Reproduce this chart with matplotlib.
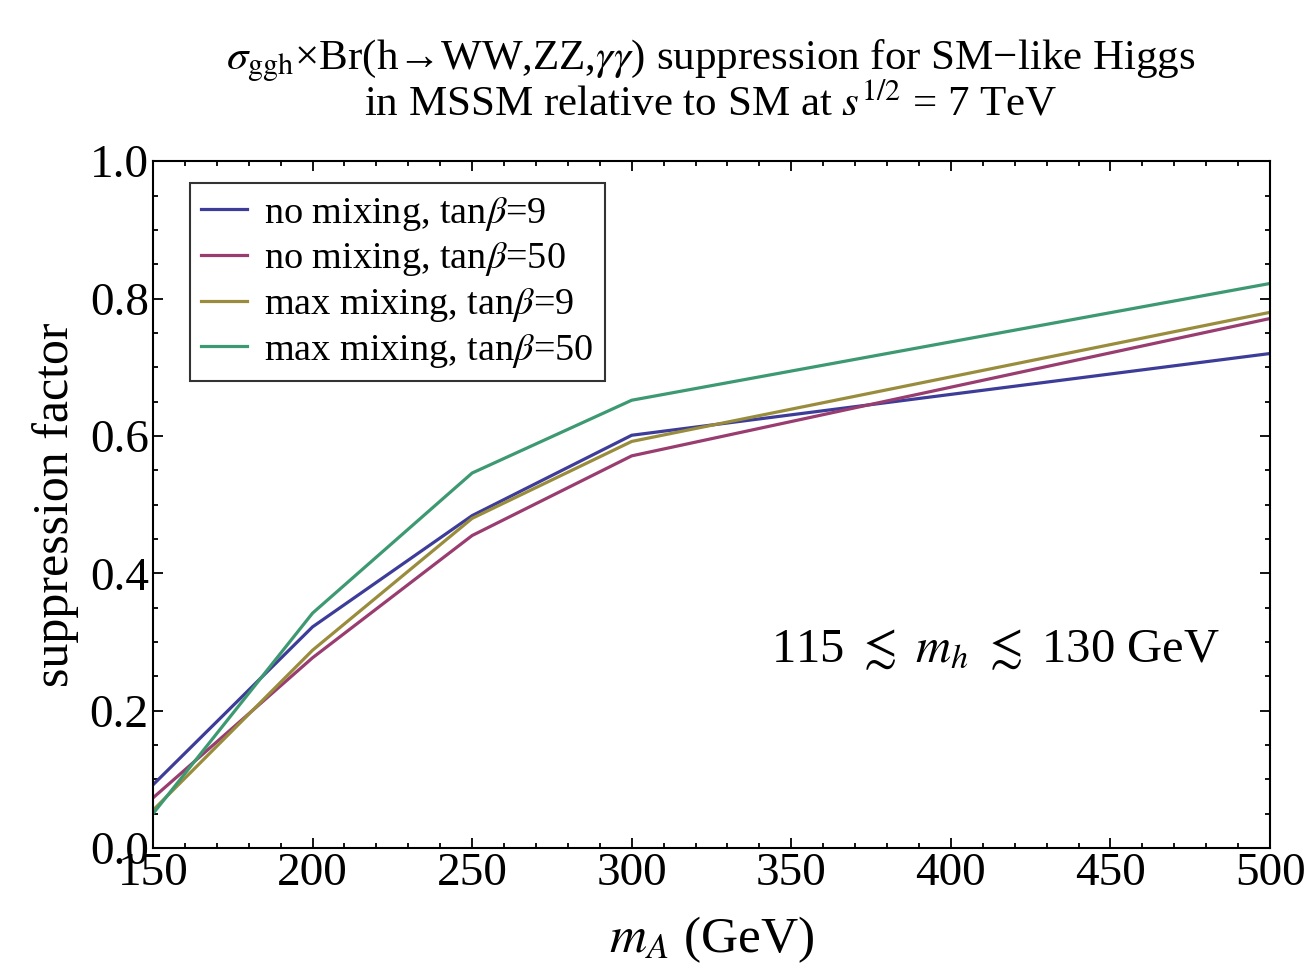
import numpy as np
import matplotlib
matplotlib.use("Agg")
import matplotlib.pyplot as plt
from matplotlib.ticker import MultipleLocator

plt.rcParams['font.family'] = ['Liberation Serif', 'DejaVu Serif']
plt.rcParams['mathtext.fontset'] = 'stix'

# m_A (GeV)
m_A = [150, 200, 250, 300, 500]

# suppression factors
nomix_tb9 = [0.092, 0.322, 0.484, 0.601, 0.720]
nomix_tb50 = [0.073, 0.277, 0.455, 0.571, 0.771]
maxmix_tb9 = [0.055, 0.288, 0.480, 0.592, 0.780]
maxmix_tb50 = [0.050, 0.342, 0.546, 0.652, 0.822]

labels = [r'no mixing, tan$\beta$=9', r'no mixing, tan$\beta$=50',
          r'max mixing, tan$\beta$=9', r'max mixing, tan$\beta$=50']
colors = ['#3d3d99', '#993d71', '#998d3d', '#3d9971']

fig = plt.figure(figsize=(13.13, 9.77), dpi=100)
ax = fig.add_axes([0.1165, 0.132, 0.8508, 0.703])

for ys, lab, c in zip([nomix_tb9, nomix_tb50, maxmix_tb9, maxmix_tb50], labels, colors):
    ax.plot(m_A, ys, color=c, lw=2.3, label=lab)

ax.set_xlim(150, 500)
ax.set_ylim(0, 1.0)
ax.xaxis.set_major_locator(MultipleLocator(50))
ax.xaxis.set_minor_locator(MultipleLocator(10))
ax.yaxis.set_major_locator(MultipleLocator(0.2))
ax.yaxis.set_minor_locator(MultipleLocator(0.05))
ax.yaxis.set_major_formatter(matplotlib.ticker.FormatStrFormatter('%.1f'))
ax.tick_params(which='both', direction='in', top=True, right=True, labelsize=34, width=1.3)
ax.tick_params(which='major', length=7, pad=3)
ax.tick_params(which='minor', length=3.5)
for s in ax.spines.values():
    s.set_linewidth(1.5)

ax.set_xlabel(r'$m_A$ (GeV)', fontsize=37, labelpad=14)
ax.set_ylabel('suppression factor', fontsize=36, labelpad=8)

# title centred over the plot area
fig.text(0.5415, 0.937, r'$\sigma_{\rm ggh}$×Br(h→WW,ZZ,$\gamma\gamma$) suppression for SM−like Higgs',
         ha='center', va='center', fontsize=31)
fig.text(0.5415, 0.893, r'in MSSM relative to SM at $s^{1/2}$ = 7 TeV',
         ha='center', va='center', fontsize=31)

ax.text(414, 0.288, r'115 $\lesssim$ $m_h$ $\lesssim$ 130 GeV', ha='center', va='center', fontsize=35)

leg = ax.legend(loc='upper left', bbox_to_anchor=(0.033, 0.968), fontsize=27.5, frameon=True,
                fancybox=False, edgecolor='black', handlelength=1.2, handletextpad=0.45,
                borderpad=0.3, labelspacing=0.2, borderaxespad=0)
leg.get_frame().set_linewidth(1.5)

fig.savefig('out.png', dpi=100)
